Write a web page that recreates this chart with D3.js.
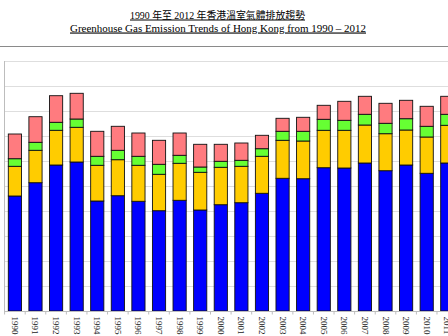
<!DOCTYPE html>
<html>
<head>
<meta charset="utf-8">
<script src="https://cdn.jsdelivr.net/npm/d3@7"></script>
<style>
  html, body { margin: 0; padding: 0; background: #fff; overflow: hidden; }
  svg { display: block; }
</style>
</head>
<body>
<svg id="chart" width="448" height="336"></svg>
<script>
// ---- Data (kt CO2-e) ----
const years = ["1990","1991","1992","1993","1994","1995","1996","1997","1998","1999","2000","2001","2002","2003","2004","2005","2006","2007","2008","2009","2010","2011","2012"];
const electricity = [23000,25660,29200,29800,22000,23060,21940,20060,22140,20200,21260,21660,23540,26540,26460,28660,28600,29600,28060,29200,27540,29600,30200];
const transport   = [5940,6480,6940,6940,7140,7200,7200,7280,7400,7540,7480,7280,7400,7600,7540,7480,7540,7600,7400,7000,7260,7540,7600];
const otherFuel   = [1520,1600,1600,1660,1800,1880,1800,2000,1600,1060,1200,1200,1520,1800,1940,2200,2000,2140,2080,2260,2140,2200,2200];
const waste       = [4940,5120,5320,5140,5000,4800,4660,4800,4460,4540,3400,3460,2680,2600,2800,2800,3800,3600,4000,3680,4000,3600,3600];
const seriesNames = ["electricity","transport","otherFuel","waste"];
const seriesColors = ["#0000ff","#ffcc00","#66ff33","#ff7b7f"];
const yTicks = [0,5000,10000,15000,20000,25000,30000,35000,40000,45000,50000];
const titleZh = "1990 年至 2012 年香港溫室氣體排放趨勢";
const titleEn = "Greenhouse Gas Emission Trends of Hong Kong from 1990 – 2012";

const rows = years.map((y, i) => ({
  year: y,
  electricity: electricity[i],
  transport: transport[i],
  otherFuel: otherFuel[i],
  waste: waste[i]
}));

const svg = d3.select("#chart");
const W = 448, H = 336;
const baseY = 311, topY = 61;

const x = d3.scaleBand()
  .domain(years)
  .range([4.6, 4.6 + 23 * 20.59])
  .paddingInner(0.36)
  .paddingOuter(0.18);

const y = d3.scaleLinear().domain([0, 50000]).range([baseY, topY]);

// Titles
const serif = "'Liberation Serif','DejaVu Serif',serif";
svg.append("text")
  .attr("x", 217.5).attr("y", 18.5)
  .attr("text-anchor", "middle")
  .attr("font-family", "'Liberation Serif','Noto Sans CJK TC',serif")
  .attr("font-size", 10)
  .attr("textLength", 175).attr("lengthAdjust", "spacingAndGlyphs")
  .attr("text-decoration", "underline")
  .attr("fill", "#000")
  .text(titleZh);
svg.append("text")
  .attr("x", 218).attr("y", 31.5)
  .attr("text-anchor", "middle")
  .attr("font-family", serif)
  .attr("font-size", 11)
  .attr("textLength", 296).attr("lengthAdjust", "spacingAndGlyphs")
  .attr("text-decoration", "underline")
  .attr("fill", "#000")
  .text(titleEn);

// Separator rule
svg.append("line")
  .attr("x1", 0).attr("x2", W).attr("y1", 46.5).attr("y2", 46.5)
  .attr("stroke", "#8a8a8a").attr("stroke-width", 1);

// Gridlines
svg.append("g")
  .selectAll("line")
  .data(yTicks.slice(1))
  .join("line")
  .attr("x1", 4).attr("x2", W)
  .attr("y1", d => Math.round(y(d)) + 0.5)
  .attr("y2", d => Math.round(y(d)) + 0.5)
  .attr("stroke", "#dedede").attr("stroke-width", 1);

// Y axis line (labels cropped off in reference)
svg.append("line")
  .attr("x1", 4.5).attr("x2", 4.5).attr("y1", topY).attr("y2", baseY)
  .attr("stroke", "#bdbdbd").attr("stroke-width", 1);

// Stacked bars
const stack = d3.stack().keys(seriesNames);
const stacked = stack(rows);

svg.append("g")
  .selectAll("g")
  .data(stacked)
  .join("g")
  .attr("fill", (d, i) => seriesColors[i])
  .selectAll("rect")
  .data(d => d)
  .join("rect")
  .attr("x", d => x(d.data.year))
  .attr("width", x.bandwidth())
  .attr("y", d => y(d[1]))
  .attr("height", d => y(d[0]) - y(d[1]))
  .attr("stroke", "#111")
  .attr("stroke-width", 0.9);

// X axis
const xAxis = svg.append("g").attr("transform", `translate(0,${baseY + 0.5})`);
xAxis.append("line")
  .attr("x1", 4).attr("x2", W)
  .attr("stroke", "#bdbdbd").attr("stroke-width", 1);
const step = x.step();
xAxis.selectAll("line.tick")
  .data(years.concat(["end"]))
  .join("line")
  .attr("class", "tick")
  .attr("x1", (d, i) => x(years[0]) - step * x.paddingOuter() + i * step)
  .attr("x2", (d, i) => x(years[0]) - step * x.paddingOuter() + i * step)
  .attr("y1", 0).attr("y2", 3)
  .attr("stroke", "#bdbdbd");

xAxis.selectAll("text")
  .data(years)
  .join("text")
  .attr("transform", d => `translate(${x(d) + x.bandwidth() / 2 - 3},${5}) rotate(90)`)
  .attr("font-family", serif)
  .attr("font-size", 9)
  .attr("fill", "#222")
  .text(d => d);
</script>
</body>
</html>
